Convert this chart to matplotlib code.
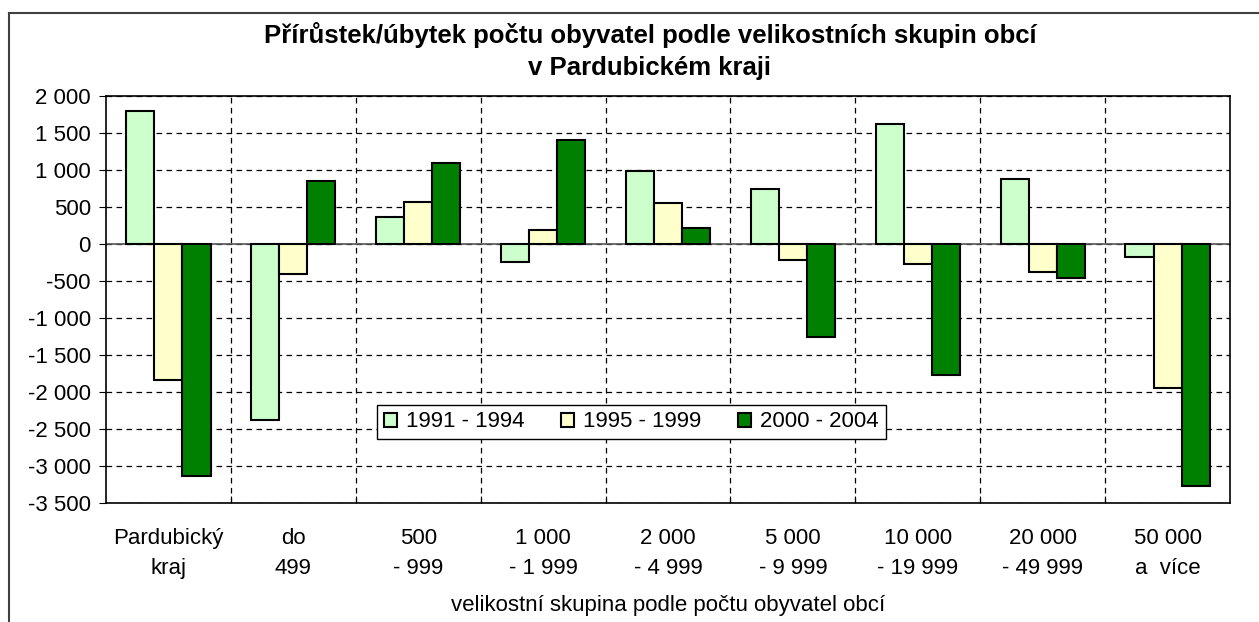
import numpy as np
import matplotlib.pyplot as plt
from matplotlib.lines import Line2D
from matplotlib.ticker import FuncFormatter, FixedLocator

plt.rcParams["font.family"] = ["Liberation Sans", "DejaVu Sans"]
plt.rcParams["font.size"] = 16

# -------------------------------------------------------------------
# Data
# -------------------------------------------------------------------

categories = ["Pardubický\nkraj", "do\n499", "500\n- 999", "1 000\n- 1 999",
              "2 000\n- 4 999", "5 000\n- 9 999", "10 000\n- 19 999",
              "20 000\n- 49 999", "50 000\na  více"]
series_names = ["1991 - 1994", "1995 - 1999", "2000 - 2004"]
p1991 = [1800, -2380, 360, -240, 990, 740, 1620, 880, -180]
p1995 = [-1840, -400, 570, 190, 550, -210, -270, -380, -1940]
p2000 = [-3130, 850, 1100, 1400, 220, -1250, -1770, -460, -3270]
colors = ["#CCFFCC", "#FFFFCC", "#008000"]

yticks = np.arange(-3500, 2001, 500)

# -------------------------------------------------------------------
# Plot
# -------------------------------------------------------------------

W, H = 1259, 622
fig = plt.figure(figsize=(W / 100, H / 100), dpi=100)
ax = fig.add_axes([106 / W, 1 - 503 / H, 1124 / W, 407 / H])

x = np.arange(len(categories))
width = 0.225
for i, (vals, name, col) in enumerate(zip([p1991, p1995, p2000], series_names, colors)):
    ax.bar(x + (i - 1) * width, vals, width, color=col, edgecolor="black",
           linewidth=1.5, label=name, zorder=3)

ax.set_xlim(-0.5, len(categories) - 0.5)
ax.set_ylim(-3500, 2000)
ax.set_yticks(yticks)
ax.yaxis.set_major_formatter(FuncFormatter(
    lambda v, _: f"{int(v):,}".replace(",", " ")))

ax.xaxis.set_major_locator(FixedLocator(np.arange(0.5, len(categories) - 1, 1)))
ax.xaxis.set_major_formatter(FuncFormatter(lambda v, _: ""))
ax.set_xticks(x, minor=True)
ax.set_xticklabels(categories, minor=True, linespacing=1.55)
ax.tick_params(axis="x", which="minor", length=0, pad=18)
ax.tick_params(axis="x", which="major", direction="in", length=5)
ax.tick_params(axis="y", direction="out", length=5, pad=6)

ax.grid(True, which="major", color="black", linestyle=(0, (4.5, 3.5)),
        linewidth=0.9, zorder=0)
ax.axhline(0, color="#555555", linewidth=1.2, zorder=2)

for sp in ax.spines.values():
    sp.set_linewidth(1.2)

fig.text(668 / W, 1 - 606 / H, "velikostní skupina podle počtu obyvatel obcí",
         ha="center", va="center", fontsize=16)
fig.text(650 / W, 1 - 51 / H,
         "Přírůstek/úbytek počtu obyvatel podle velikostních skupin obcí\nv Pardubickém kraji",
         ha="center", va="center", fontweight="bold", fontsize=18.5,
         linespacing=1.4)

leg = ax.legend(loc="lower left", bbox_to_anchor=(0.241, 0.157), ncol=3,
                fancybox=False, edgecolor="black", framealpha=1,
                fontsize=16, handlelength=0.6, handleheight=0.6,
                handletextpad=0.4, columnspacing=1.65, borderpad=0.3,
                borderaxespad=0)
leg.get_frame().set_linewidth(1.0)
leg.set_zorder(5)

# outer chart frame (only left and top edges fall inside the picture)
fig.add_artist(Line2D([9 / W, 9 / W], [0, 1 - 13 / H], transform=fig.transFigure,
                      color="#404040", linewidth=1.5))
fig.add_artist(Line2D([9 / W, 1], [1 - 13 / H, 1 - 13 / H], transform=fig.transFigure,
                      color="#404040", linewidth=1.5))

fig.savefig("out.png", dpi=100)
